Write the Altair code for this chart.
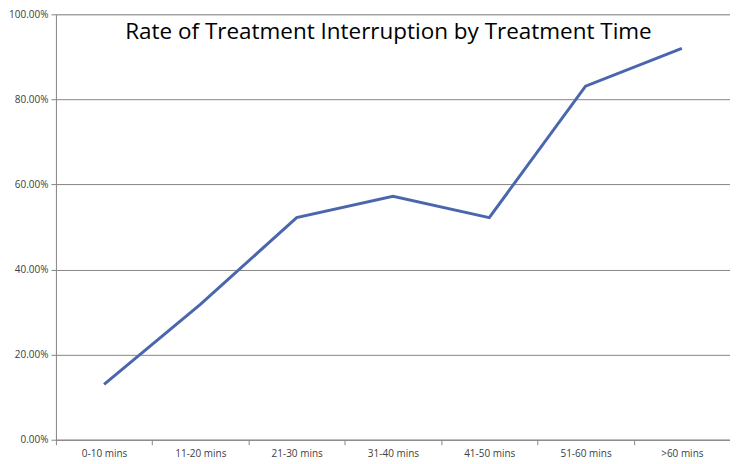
import altair as alt
import pandas as pd

categories = ["0-10 mins", "11-20 mins", "21-30 mins", "31-40 mins", "41-50 mins", "51-60 mins", ">60 mins"]
rates = [0.13, 0.318, 0.522, 0.572, 0.522, 0.831, 0.92]
title_text = "Rate of Treatment Interruption by Treatment Time"

df = pd.DataFrame({"cat": categories, "rate": rates})

W, H = 675, 426

x = alt.X("cat:N", sort=categories, title=None,
          scale=alt.Scale(type="band", paddingInner=0, paddingOuter=0),
          axis=alt.Axis(labelAngle=0, tickBand="extent", tickSize=5, tickColor="#868686",
                        domainColor="#868686", labelColor="#404040", labelFont="Open Sans",
                        labelFontSize=10, labelPadding=4, labelBaseline="top", grid=False))
y = alt.Y("rate:Q", title=None,
          scale=alt.Scale(domain=[0, 1], nice=False),
          axis=alt.Axis(format=".2%", values=[0, 0.2, 0.4, 0.6, 0.8, 1.0], tickSize=5,
                        tickColor="#868686", domainColor="#868686", gridColor="#868686",
                        gridWidth=1, labelColor="#404040", labelFont="Open Sans",
                        labelFontSize=10, labelPadding=3))

line = alt.Chart(df).mark_line(color="#4a66ac", strokeWidth=3).encode(x=x, y=y)

title = alt.Chart(pd.DataFrame({"t": [title_text]})).mark_text(
    font="Open Sans", fontSize=22.5, color="#000000", align="center", baseline="middle"
).encode(text="t:N", x=alt.value(389 - 56), y=alt.value(18))

chart = alt.layer(line, title).properties(
    width=W, height=H,
    autosize=alt.AutoSizeParams(type="none"),
    padding={"left": 48, "top": 6, "right": 0, "bottom": 28},
).configure_view(stroke=None).configure(background="white")

chart.save("out.html", embed_options={"renderer": "svg", "actions": False})
